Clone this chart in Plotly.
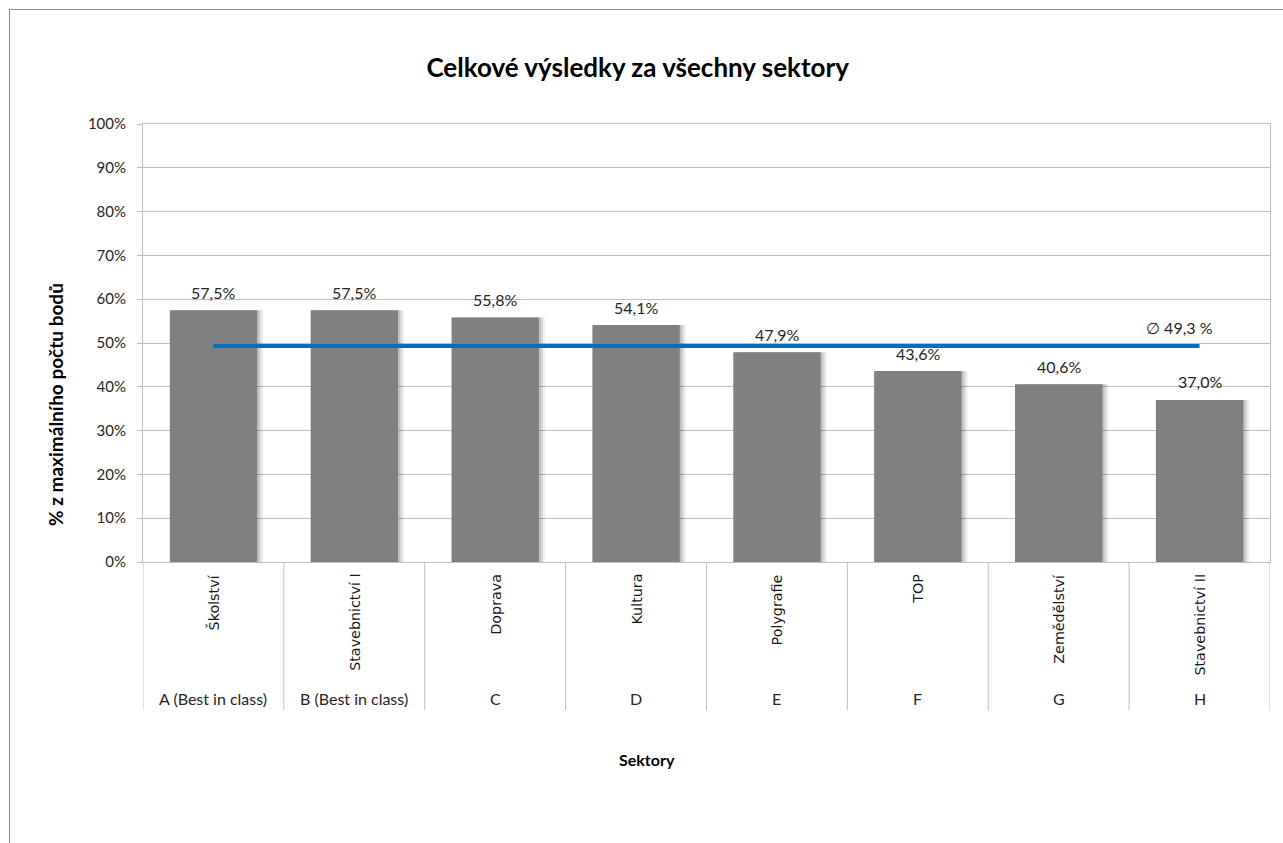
import plotly.graph_objects as go

sectors = ["Školství", "Stavebnictví I", "Doprava", "Kultura", "Polygrafie", "TOP", "Zemědělství", "Stavebnictví II"]
groups = ["A (Best in class)", "B (Best in class)", "C", "D", "E", "F", "G", "H"]
values = [57.5, 57.5, 55.8, 54.1, 47.9, 43.6, 40.6, 37.0]
average = 49.3
y_ticks = [0, 10, 20, 30, 40, 50, 60, 70, 80, 90, 100]
y_tick_text = ["0%", "10%", "20%", "30%", "40%", "50%", "60%", "70%", "80%", "90%", "100%"]

n = len(sectors)
idx = list(range(n))
BAR_W = 0.62
LBL_FONT = "Lato, Calibri, sans-serif"
ROT_FONT = "DejaVu Sans, Verdana, sans-serif"
TXT = "#262626"

fig = go.Figure()

# soft shadows behind bars
for off, alpha in [(0.045, 0.06), (0.03, 0.09), (0.015, 0.12)]:
    fig.add_trace(go.Bar(
        x=idx, y=values, width=BAR_W, offset=-BAR_W / 2 + off,
        marker=dict(color=f"rgba(0,0,0,{alpha})", line=dict(width=0)),
        hoverinfo="skip", showlegend=False,
    ))

fig.add_trace(go.Bar(
    x=idx, y=values, width=BAR_W, offset=-BAR_W / 2,
    marker=dict(color="#808080", line=dict(width=0)),
    showlegend=False, name="Výsledek",
))

fig.add_trace(go.Scatter(
    x=idx, y=[average] * n, mode="lines",
    line=dict(color="#0070C0", width=4), showlegend=False, name="Průměr",
))

annotations = []
for i, v in enumerate(values):
    annotations.append(dict(
        x=i, y=v, xref="x", yref="y", text=f"{v:.1f}%".replace(".", ","),
        showarrow=False, yanchor="middle", yshift=18,
        font=dict(family=LBL_FONT, size=16, color=TXT),
    ))

annotations.append(dict(
    x=n - 1, y=average, xref="x", yref="y",
    text="∅ " + f"{average:.1f}".replace(".", ",") + " %",
    showarrow=False, yanchor="middle", yshift=19, xshift=-20,
    font=dict(family=LBL_FONT, size=16, color=TXT),
))

PLOT_H = 438.0
for i in idx:
    annotations.append(dict(
        x=i, y=-10 / PLOT_H, xref="x", yref="paper", text=sectors[i],
        textangle=-90, showarrow=False, yanchor="top", xanchor="center",
        font=dict(family=ROT_FONT, size=14.3, color="#1a1a1a"),
    ))
    annotations.append(dict(
        x=i, y=-136 / PLOT_H, xref="x", yref="paper", text=groups[i],
        showarrow=False, yanchor="middle", xanchor="center",
        font=dict(family=LBL_FONT, size=16, color=TXT),
    ))

# axis titles
annotations.append(dict(
    x=(55 - 143) / 1127, y=(562 - 405) / PLOT_H, xref="paper", yref="paper",
    xanchor="center", yanchor="middle",
    text="<b>% z maximálního počtu bodů</b>", textangle=-90, showarrow=False,
    font=dict(family=LBL_FONT, size=19, color="#000000"),
))
annotations.append(dict(
    x=(647 - 143) / 1127, y=-(759 - 562) / PLOT_H, xref="paper", yref="paper",
    xanchor="center", yanchor="middle",
    text="<b>Sektory</b>", showarrow=False,
    font=dict(family=LBL_FONT, size=16, color="#000000"),
))

shapes = []
for k in range(n + 1):
    shapes.append(dict(
        type="line", xref="x", yref="paper", x0=k - 0.5, x1=k - 0.5,
        y0=0, y1=-148 / PLOT_H, line=dict(color="#bfbfbf", width=1),
    ))
# outer chart border
shapes.append(dict(
    type="rect", xref="paper", yref="paper",
    x0=(9.5 - 143) / 1127, x1=1.03, y0=-0.7, y1=(562 - 9.5) / PLOT_H,
    line=dict(color="#8c8c8c", width=1), layer="below",
))

fig.update_layout(
    width=1283, height=843,
    margin=dict(l=143, r=13, t=124, b=281),
    paper_bgcolor="white", plot_bgcolor="white",
    barmode="overlay",
    title=dict(
        text="<b>Celkové výsledky za všechny sektory</b>",
        x=0.497, xanchor="center", y=1 - 68 / 843, yanchor="middle",
        font=dict(family=LBL_FONT, size=26, color="#000000"),
    ),
    annotations=annotations, shapes=shapes,
    xaxis=dict(
        range=[-0.5, n - 0.5], showticklabels=False, ticks="",
        showgrid=False, zeroline=False, showline=True, mirror=True,
        linecolor="#bfbfbf", linewidth=1,
    ),
    yaxis=dict(
        range=[0, 100], tickmode="array", tickvals=y_ticks, ticktext=y_tick_text,
        showgrid=True, gridcolor="#bfbfbf", gridwidth=1,
        zeroline=False, showline=True, mirror=True, linecolor="#bfbfbf",
        ticks="outside", ticklen=5, tickcolor="#bfbfbf",
        ticklabelstandoff=8,
        tickfont=dict(family=LBL_FONT, size=15, color=TXT),
    ),
    font=dict(family=LBL_FONT),
)

fig.write_html("out.html")
